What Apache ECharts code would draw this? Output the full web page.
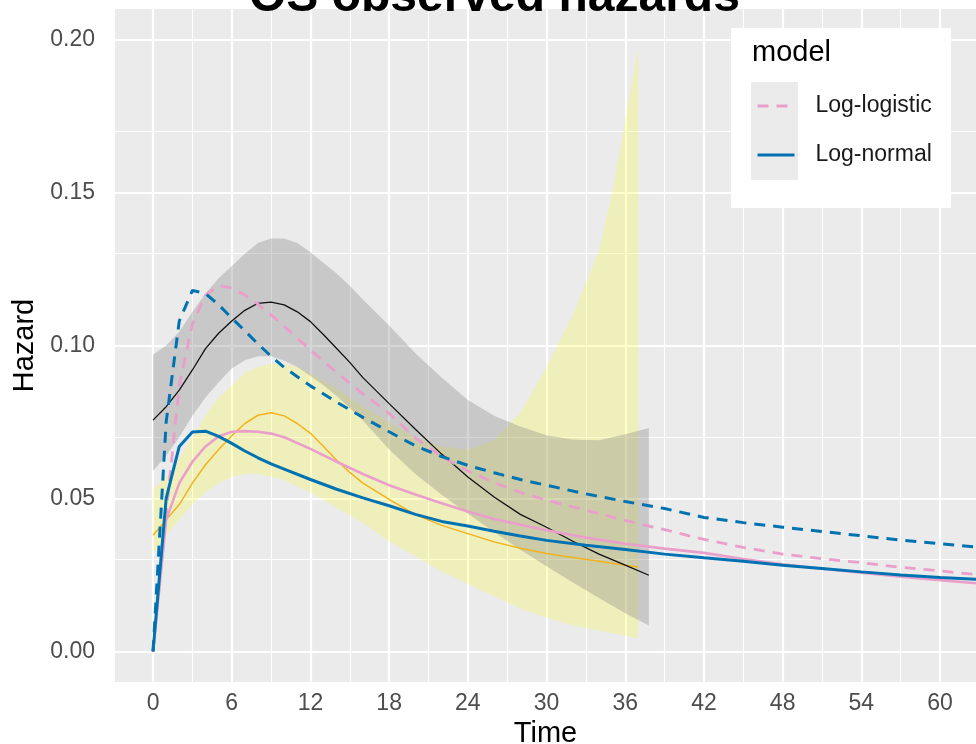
<!DOCTYPE html>
<html>
<head>
<meta charset="utf-8">
<title>OS observed hazards</title>
<script src="https://cdn.jsdelivr.net/npm/echarts@6/dist/echarts.min.js"></script>
<style>
html,body{margin:0;padding:0;background:#fff;}
#chart{width:976px;height:744px;}
</style>
</head>
<body>
<div id="chart"></div>
<script>
// ---- tick labels / grid positions ----
var xTicks = [0, 6, 12, 18, 24, 30, 36, 42, 48, 54, 60];
var xMinor = [3, 9, 15, 21, 27, 33, 39, 45, 51, 57];
var yTicks = [0, 0.05, 0.10, 0.15, 0.20];
var yMinor = [0.025, 0.075, 0.125, 0.175];

// ---- observed hazard, arm 1 (grey band + black line) ----
var greyT = [0,1,2,3,4,5,6,7,8,9,10,11,12,13,14,15,16,18,20,22,24,26,28,30,32,34,36,37.8];
var greyUpper = [0.097,0.100,0.1045,0.111,0.117,0.122,0.126,0.130,0.1335,0.135,0.135,0.1335,0.1305,0.127,0.1235,0.1195,0.115,0.1065,0.0975,0.0895,0.0822,0.077,0.0735,0.0707,0.0693,0.069,0.071,0.073];
var greyLower = [0.059,0.064,0.070,0.077,0.083,0.088,0.0925,0.0952,0.0965,0.0965,0.095,0.093,0.090,0.087,0.0835,0.0795,0.0755,0.066,0.058,0.0512,0.045,0.039,0.0332,0.0278,0.0225,0.0175,0.0125,0.0085];
var blackLine = [0.0756,0.080,0.0854,0.092,0.099,0.104,0.108,0.1115,0.1138,0.1142,0.1133,0.111,0.1078,0.1035,0.099,0.0945,0.0895,0.081,0.0726,0.0645,0.057,0.0505,0.0448,0.0406,0.036,0.0318,0.0282,0.0249];

// ---- observed hazard, arm 2 (yellow band + orange line) ----
var yellowT = [0,1,2,3,4,5,6,7,8,9,10,11,12,14,16,18,20,22,24,26,28,30,32,34,35,36,37];
var yellowUpper = [0.053,0.057,0.063,0.070,0.077,0.083,0.087,0.091,0.093,0.094,0.094,0.093,0.091,0.086,0.080,0.075,0.070,0.067,0.066,0.069,0.078,0.093,0.110,0.131,0.150,0.174,0.197];
var yellowLower = [0.032,0.038,0.043,0.048,0.052,0.055,0.057,0.058,0.058,0.057,0.056,0.054,0.052,0.047,0.042,0.036,0.031,0.026,0.022,0.018,0.014,0.011,0.0085,0.0068,0.006,0.005,0.0043];
var orangeT = [0,1,2,3,4,5,6,7,8,9,10,11,12,13,14,15,16,18,20,22,24,26,28,30,32,34,36,37];
var orangeLine = [0.038,0.043,0.048,0.055,0.061,0.066,0.0705,0.0745,0.0772,0.078,0.077,0.0745,0.0713,0.067,0.0625,0.0585,0.055,0.0497,0.0447,0.0412,0.0385,0.0358,0.0337,0.032,0.0307,0.0295,0.0282,0.0276];

// ---- fitted models ----
var modelT = [0,1,2,3,4,5,6,7,8,9,10,12,14,16,18,20,22,24,26,28,30,33,36,39,42,45,48,51,54,57,60,63];
var logNormalSolid = [0,0.050,0.067,0.0717,0.072,0.0703,0.068,0.0655,0.0633,0.0613,0.0596,0.0562,0.053,0.0502,0.0476,0.0448,0.0425,0.041,0.0393,0.0377,0.0363,0.0347,0.0333,0.0318,0.0306,0.0295,0.0282,0.0271,0.026,0.025,0.0242,0.0235];
var logNormalDashed = [0,0.075,0.108,0.118,0.117,0.1133,0.109,0.1048,0.1005,0.0965,0.0928,0.0868,0.0815,0.0765,0.0718,0.0672,0.0637,0.0608,0.0584,0.0562,0.0543,0.0515,0.049,0.0467,0.0438,0.0421,0.0406,0.0392,0.0378,0.0364,0.0352,0.034];
var logLogisticDashed = [0,0.045,0.087,0.107,0.1165,0.1195,0.1188,0.1165,0.1135,0.110,0.1063,0.0985,0.0912,0.0842,0.0778,0.0698,0.0637,0.059,0.0552,0.052,0.0494,0.0462,0.0428,0.0398,0.0366,0.034,0.0318,0.0303,0.029,0.0275,0.0263,0.025];
var logLogisticSolid = [0,0.043,0.055,0.062,0.067,0.0703,0.0718,0.072,0.0718,0.0712,0.070,0.0662,0.062,0.058,0.0543,0.0513,0.0484,0.0457,0.0433,0.0414,0.0396,0.0372,0.0352,0.0336,0.0322,0.0302,0.0285,0.027,0.0257,0.0244,0.0233,0.0222];

var FONT = 'Liberation Sans, Arial, Helvetica, sans-serif';
var BLUE = '#0072B2';
var PINK = '#EA9FCB';

function pairs(xs, ys) { return xs.map(function (x, i) { return [x, ys[i]]; }); }
function bandData(xs, lo, hi) { return xs.map(function (x, i) { return [x, lo[i], hi[i]]; }); }
function ribbon(xs, lo, hi, fill) {
  return function (params, api) {
    if (params.dataIndex !== 0) return null;
    var pts = [];
    for (var i = 0; i < xs.length; i++) pts.push(api.coord([xs[i], hi[i]]));
    for (var j = xs.length - 1; j >= 0; j--) pts.push(api.coord([xs[j], lo[j]]));
    return { type: 'polygon', shape: { points: pts }, style: { fill: fill } };
  };
}
function lineSeries(name, xs, ys, color, width, type, z) {
  return {
    name: name, type: 'line', data: pairs(xs, ys), symbol: 'none', showSymbol: false,
    smooth: false, z: z, silent: true,
    lineStyle: { color: color, width: width, type: type },
    itemStyle: { color: color }
  };
}

var gridMarks = [];
xTicks.forEach(function (v) { gridMarks.push({ xAxis: v, lineStyle: { width: 2.2 } }); });
xMinor.forEach(function (v) { gridMarks.push({ xAxis: v, lineStyle: { width: 1.1 } }); });
yTicks.forEach(function (v) { gridMarks.push({ yAxis: v, lineStyle: { width: 2.2 } }); });
yMinor.forEach(function (v) { gridMarks.push({ yAxis: v, lineStyle: { width: 1.1 } }); });

var legendBase = {
  left: 756, orient: 'vertical', padding: 0, itemWidth: 37, itemHeight: 26,
  selectedMode: false, z: 20,
  itemStyle: { opacity: 0 },
  lineStyle: { width: 3 },
  textStyle: { fontSize: 23, color: '#1A1A1A', padding: [0, 0, 0, 16], lineHeight: 26, fontFamily: FONT }
};

var chart = echarts.init(document.getElementById('chart'), null, { renderer: 'canvas' });
chart.setOption({
  animation: false,
  textStyle: { fontFamily: FONT },
  title: {
    text: 'OS observed hazards', left: 249, top: -31, padding: [5, 0, 5, 0], z: 20,
    textStyle: { fontSize: 48, fontWeight: 'bold', color: '#000', fontFamily: FONT }
  },
  grid: { left: 115, right: 0, top: 9, bottom: 62, show: true, backgroundColor: '#EBEBEB', borderWidth: 0,
    containLabel: false, outerBoundsMode: 'none' },
  xAxis: {
    type: 'value', min: -2.9, max: 62.74,
    splitLine: { show: false }, axisLine: { show: false },
    axisTick: { customValues: xTicks, length: 7, lineStyle: { color: '#333333', width: 2 } },
    axisLabel: { customValues: xTicks, fontSize: 23, color: '#4D4D4D', margin: 10, fontFamily: FONT },
    name: 'Time', nameLocation: 'middle', nameGap: 37,
    nameTextStyle: { fontSize: 29, color: '#000', fontFamily: FONT }
  },
  yAxis: {
    type: 'value', min: -0.01, max: 0.21,
    splitLine: { show: false }, axisLine: { show: false },
    axisTick: { customValues: yTicks, length: 7, lineStyle: { color: '#333333', width: 2 } },
    axisLabel: { customValues: yTicks, fontSize: 23, color: '#4D4D4D', margin: 20, fontFamily: FONT,
      formatter: function (v) { return v.toFixed(2); } },
    name: 'Hazard', nameLocation: 'middle', nameGap: 74, nameRotate: 90,
    nameTextStyle: { fontSize: 29, color: '#000', fontFamily: FONT }
  },
  legend: [
    Object.assign({}, legendBase, { data: ['Log-logistic'], top: 93 }),
    Object.assign({}, legendBase, { data: ['Log-normal'], top: 142 })
  ],
  graphic: [
    { type: 'rect', z: 15, shape: { x: 731, y: 28, width: 220, height: 180 }, style: { fill: '#FFFFFF' } },
    { type: 'rect', z: 16, shape: { x: 751, y: 82, width: 47, height: 98 }, style: { fill: '#EBEBEB' } },
    { type: 'text', z: 16, x: 752, y: 53, style: { text: 'model', fontSize: 29, fill: '#000', fontFamily: FONT, verticalAlign: 'middle', align: 'left' } }
  ],
  series: [
    { name: 'grid', type: 'line', data: [], symbol: 'none', z: 1, silent: true,
      markLine: { silent: true, z: 1, symbol: ['none', 'none'], label: { show: false }, animation: false,
        lineStyle: { color: '#FFFFFF', type: 'solid' }, emphasis: { disabled: true }, data: gridMarks } },
    { name: 'Arm 2 band', type: 'custom', z: 6, silent: true, data: bandData(yellowT, yellowLower, yellowUpper),
      encode: { x: 0, y: [1, 2] }, renderItem: ribbon(yellowT, yellowLower, yellowUpper, 'rgba(255,255,0,0.2)') },
    { name: 'Arm 1 band', type: 'custom', z: 7, silent: true, data: bandData(greyT, greyLower, greyUpper),
      encode: { x: 0, y: [1, 2] }, renderItem: ribbon(greyT, greyLower, greyUpper, 'rgba(127,127,127,0.32)') },
    lineSeries('Arm 2 observed', orangeT, orangeLine, '#F2B21B', 1.5, 'solid', 8),
    lineSeries('Arm 1 observed', greyT, blackLine, '#111111', 1.3, 'solid', 8),
    lineSeries('Log-logistic', modelT, logLogisticDashed, PINK, 2.8, [11, 8], 9),
    lineSeries('Log-logistic', modelT, logLogisticSolid, PINK, 2.6, 'solid', 9),
    lineSeries('Log-normal', modelT, logNormalSolid, BLUE, 3, 'solid', 9),
    lineSeries('Log-normal', modelT, logNormalDashed, BLUE, 3, [11, 8], 9)
  ]
});
</script>
</body>
</html>
